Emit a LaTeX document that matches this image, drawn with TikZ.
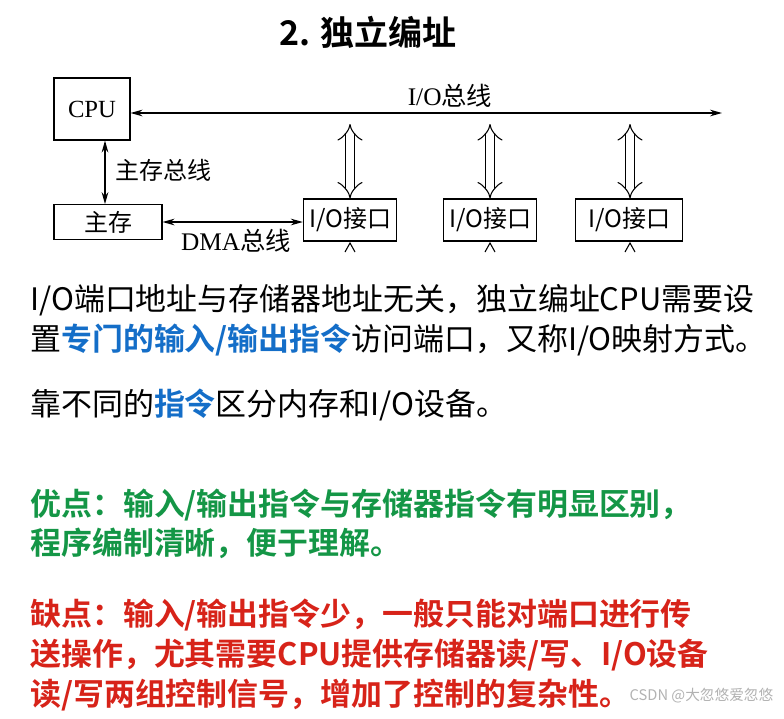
\documentclass[tikz,border=0pt]{standalone}
\usepackage{fontspec}
\setmainfont{Liberation Serif}
\newfontfamily\cjk{Noto Sans CJK SC}
\newfontfamily\cjkb{Noto Sans CJK SC Bold}
\usetikzlibrary{arrows.meta}
\definecolor{bl}{RGB}{20,110,200}
\definecolor{gr}{RGB}{20,150,70}
\definecolor{rd}{RGB}{215,35,25}
\begin{document}
\begin{tikzpicture}[x=0.75pt,y=-0.75pt,
 box/.style={draw,line width=0.8pt,inner sep=0,font=\cjk\fontsize{18}{18}\selectfont},
 dbl/.style={double distance=6pt,line width=0.8pt,{Implies[length=9pt]}-{Implies[length=9pt]}},
 bus/.style={line width=1pt,{Stealth[length=9pt,width=5pt]}-{Stealth[length=9pt,width=5pt]}},
 txt/.style={anchor=west,inner sep=0,font=\cjk\fontsize{23.2}{23.2}\selectfont}]
\useasboundingbox[fill=white] (0,0) rectangle (784,718);
\node[font=\cjkb\fontsize{25.5}{25.5}\selectfont] (title) at (368,32) {2. 独立编址};
\node[box,minimum width=57pt,minimum height=46.5pt,font=\fontsize{18.5}{18.5}\selectfont] (cpu) at (92,109) {CPU};
\node[box,minimum width=81pt,minimum height=26pt] (mem) at (108,222) {主存};
\node[box,minimum width=70pt,minimum height=31.5pt] (io1) at (350,220) {I/O接口};
\node[box,minimum width=70pt,minimum height=31.5pt] (io2) at (490,220) {I/O接口};
\node[box,minimum width=80pt,minimum height=31.5pt] (io3) at (629,220) {I/O接口};
\coordinate (busend) at (722,113);
\draw[bus] (cpu.east|-busend) -- (busend);
\node[font=\fontsize{19}{19}\selectfont] (buslab) at (450,96) {I/O{\cjk 总线}};
\draw[bus] (cpu.south-|105,0) -- (mem.north-|105,0);
\node[anchor=west,font=\cjk\fontsize{18}{18}\selectfont] (mblab) at (111,170) {主存总线};
\draw[bus] (mem.east) -- (io1.west|-mem.east);
\node[font=\fontsize{19}{19}\selectfont] (dmalab) at (236,241) {DMA{\cjk 总线}};
\foreach \n/\x in {io1/350,io2/490,io3/630}{
 \coordinate (t\n) at (\x,124);
 \draw[dbl] (t\n) -- (\n.north-|t\n);
 \draw[line width=0.8pt] (\x-5,252) -- (\x,243) -- (\x+5,252);
}
\node[txt] (l1) at (30,300) {I/O端口地址与存储器地址无关，独立编址CPU需要设};
\node[txt] (l2) at (30,340) {置{\cjkb\color{bl}专门的输入/输出指令}访问端口，又称I/O映射方式。};
\node[txt] (l3) at (30,405) {靠不同的{\cjkb\color{bl}指令}区分内存和I/O设备。};
\begin{scope}[every node/.style={txt,font=\cjkb\fontsize{23.2}{23.2}\selectfont}]
\node[text=gr] (g1) at (30,505) {优点：输入/输出指令与存储器指令有明显区别，};
\node[text=gr] (g2) at (30,543) {程序编制清晰，便于理解。};
\node[text=rd] (r1) at (30,615) {缺点：输入/输出指令少，一般只能对端口进行传};
\node[text=rd] (r2) at (30,655) {送操作，尤其需要CPU提供存储器读/写、I/O设备};
\node[text=rd] (r3) at (30,695) {读/写两组控制信号，增加了控制的复杂性。};
\end{scope}
\node[anchor=east,text=gray!60,font=\cjk\fontsize{11}{11}\selectfont] (wm) at (778,696) {CSDN @大忽悠爱忽悠};
\end{tikzpicture}
\end{document}
